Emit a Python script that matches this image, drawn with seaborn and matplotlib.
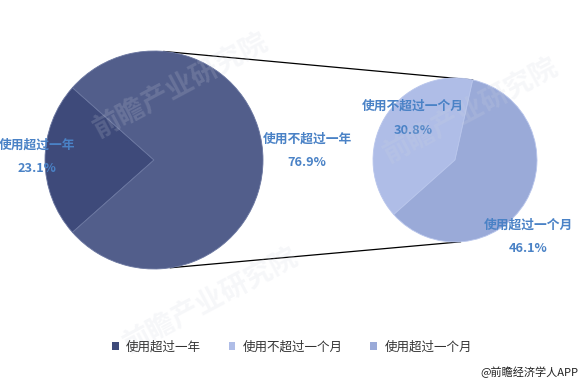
import numpy as np
import matplotlib
matplotlib.use("Agg")
import matplotlib.pyplot as plt
import seaborn as sns

# ---- data ----
main_labels = ["使用超过一年", "使用不超过一年"]
main_values = [23.1, 76.9]
sub_labels = ["使用不超过一个月", "使用超过一个月"]
sub_values = [30.8, 46.1]
legend_labels = ["使用超过一年", "使用不超过一个月", "使用超过一个月"]

main_colors = ["#3e4a7a", "#525e8b"]
sub_colors = ["#afbde7", "#9aaad8"]
label_color = "#4a82c6"

sns.set_theme(style="white")
plt.rcParams['font.family'] = ['Noto Sans CJK SC', 'DejaVu Sans']

W, H = 582, 384
fig = plt.figure(figsize=(W / 100, H / 100), dpi=100)
ax = fig.add_axes([0, 0, 1, 1])

# geometry (pixel space, y up)
c1 = (154, H - 160); r1 = 109
c2 = (455, H - 160); r2 = 82

frac0 = main_values[0] / sum(main_values)
start1 = 180 - frac0 * 360 / 2
w1, _ = ax.pie(main_values, colors=main_colors, center=c1, radius=r1,
               startangle=start1, counterclock=True,
               wedgeprops=dict(edgecolor="#6a76a0", linewidth=0.6), frame=True)

start2 = 77.5
w2, _ = ax.pie(sub_values, colors=sub_colors, center=c2, radius=r2,
               startangle=start2, counterclock=True,
               wedgeprops=dict(edgecolor="#b9c6ec", linewidth=0.6), frame=True)
ax.set_xlim(0, W)
ax.set_ylim(0, H)
ax.set_aspect('equal')
ax.axis('off')

# connector lines
def pt(c, r, a):
    a = np.deg2rad(a)
    return c[0] + r * np.cos(a), c[1] + r * np.sin(a)

top_l = pt(c1, r1, 85); top_r = pt(c2, r2, start2)
bot_l = pt(c1, r1, -81.5); bot_r = pt(c2, r2, -86)
ax.plot([top_l[0], top_r[0]], [top_l[1], top_r[1]], color="black", lw=0.9, zorder=0)
ax.plot([bot_l[0], bot_r[0]], [bot_l[1], bot_r[1]], color="black", lw=0.9, zorder=0)

# data labels
lab_kw = dict(color=label_color, fontsize=9.2, ha='center', va='center', fontweight='bold')
ax.text(37, H - 145, main_labels[0], **lab_kw)
ax.text(37, H - 168, f"{main_values[0]}%", **lab_kw)
ax.text(307, H - 139, main_labels[1], **lab_kw)
ax.text(307, H - 162, f"{main_values[1]}%", **lab_kw)
ax.text(413, H - 106, sub_labels[0], **lab_kw)
ax.text(413, H - 130, f"{sub_values[0]}%", **lab_kw)
ax.text(528, H - 225, sub_labels[1], **lab_kw)
ax.text(528, H - 248, f"{sub_values[1]}%", **lab_kw)

# watermarks (faint)
wm_kw = dict(color="#d0d4e0", alpha=0.18, fontsize=20, rotation=28,
             ha='center', va='center', fontweight='bold', zorder=5)
ax.text(180, H - 85, "前瞻产业研究院", **wm_kw)
ax.text(470, H - 110, "前瞻产业研究院", **wm_kw)
ax.text(210, H - 300, "前瞻产业研究院", **wm_kw)

# legend
handles = [w1[0], w2[0], w2[1]]
leg = ax.legend(handles, legend_labels, loc='center', bbox_to_anchor=(292 / W, 1 - 347 / H),
                ncol=3, frameon=False, fontsize=9, handlelength=0.55, handleheight=0.55,
                columnspacing=2.2, handletextpad=0.6)
for t in leg.get_texts():
    t.set_color("#333333")
for h in leg.legend_handles:
    h.set_edgecolor('none')

ax.text(578, H - 372, "@前瞻经济学人APP", fontsize=8, color="#222222", ha='right', va='center')

fig.savefig("out.png", dpi=100)
